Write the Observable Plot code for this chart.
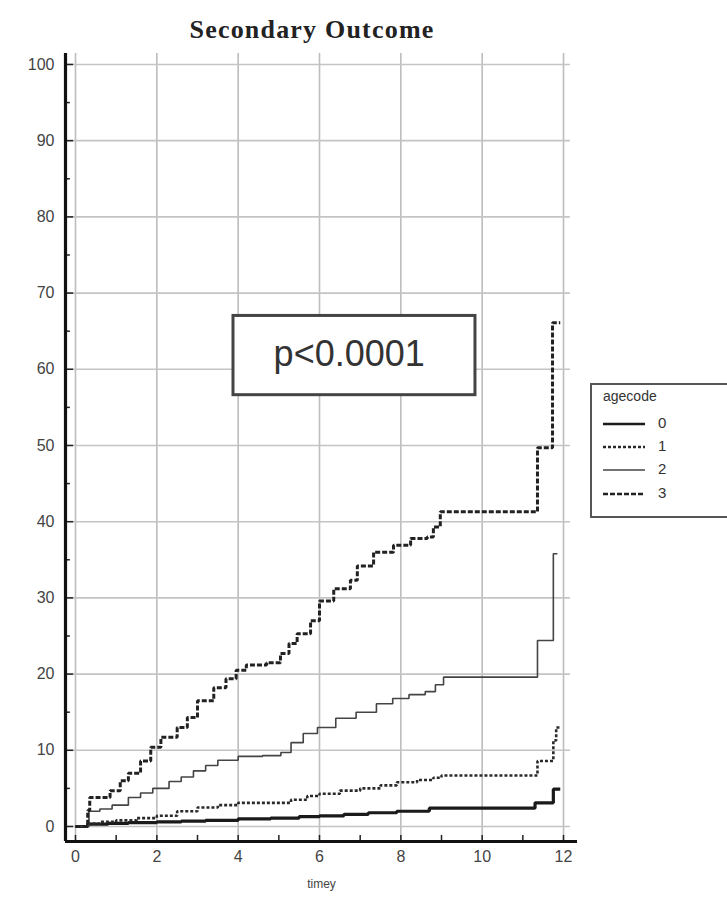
<!DOCTYPE html>
<html>
<head>
<meta charset="utf-8">
<script src="https://cdn.jsdelivr.net/npm/d3@7"></script>
<script src="https://cdn.jsdelivr.net/npm/@observablehq/plot@0.6"></script>
<style>
  html, body { margin: 0; padding: 0; background: #fff; }
  #wrap { position: relative; width: 727px; height: 900px; overflow: hidden; }
  #title { position: absolute; left: 0; top: 15px; width: 624px; text-align: center; letter-spacing: 1.2px;
    font-family: "Liberation Serif", "DejaVu Serif", serif; font-weight: bold; font-size: 26px; color: #222; }
  #chart { position: absolute; left: 0; top: 45px; }
  #legend { position: absolute; left: 590px; top: 383px; width: 150px; height: 131px;
    border: 2px solid #555; background: #fff; font-family: "Liberation Sans", Arial, sans-serif; color: #333; }
  #legend .ttl { position: absolute; left: 11px; top: 3px; font-size: 14px; }
  #legend .row { position: absolute; left: 11px; height: 20px; font-size: 15px; }
  #legend .row svg { position: absolute; left: 0; top: 4px; }
  #legend .row span { position: absolute; left: 55px; top: 0; }
</style>
</head>
<body>
<div id="wrap">
  <div id="title"></div>
  <div id="chart"></div>
  <div id="legend"></div>
</div>
<script>
// ---- data ----
const chartTitle = "Secondary Outcome";
const xLabel = "timey";
const legendTitle = "agecode";
const groups = ["0", "1", "2", "3"];

// step points [time, cumulative %] per agecode
const times0 = [0, 0.3, 0.8, 1.3, 2.0, 2.6, 3.2, 4.0, 4.8, 5.5, 6.0, 6.6, 7.2, 7.9, 8.7, 11.3, 11.75, 11.92];
const values0 = [0, 0.3, 0.4, 0.5, 0.6, 0.7, 0.8, 1.0, 1.1, 1.3, 1.4, 1.6, 1.8, 2.0, 2.4, 3.1, 4.9, 4.9];

const times1 = [0, 0.3, 0.6, 1.0, 1.5, 2.0, 2.5, 3.0, 3.5, 4.0, 5.3, 5.7, 6.0, 6.5, 7.0, 7.5, 7.9, 8.4, 8.8, 9.0, 11.36, 11.75, 11.82, 11.92];
const values1 = [0, 0.4, 0.6, 0.8, 1.1, 1.4, 2.0, 2.5, 2.8, 3.1, 3.5, 4.0, 4.3, 4.7, 5.0, 5.4, 5.8, 6.1, 6.4, 6.7, 8.6, 11.3, 13.0, 13.0];

const times2 = [0, 0.33, 0.6, 0.9, 1.3, 1.6, 1.9, 2.3, 2.6, 2.9, 3.2, 3.5, 4.0, 4.6, 5.05, 5.3, 5.6, 5.95, 6.4, 6.9, 7.4, 7.8, 8.2, 8.6, 8.85, 9.05, 11.36, 11.75, 11.85];
const values2 = [0, 2.0, 2.3, 2.8, 3.8, 4.4, 5.0, 5.9, 6.5, 7.3, 8.0, 8.7, 9.2, 9.3, 9.7, 11.0, 12.2, 13.0, 14.2, 15.0, 16.1, 16.8, 17.3, 17.7, 18.6, 19.6, 24.4, 35.8, 35.8];

const times3 = [0, 0.3, 0.35, 0.85, 1.1, 1.3, 1.6, 1.85, 2.1, 2.5, 2.75, 3.0, 3.4, 3.7, 3.95, 4.2, 4.7, 5.04, 5.25, 5.45, 5.78, 6.0, 6.35, 6.76, 6.93, 7.33, 7.82, 8.24, 8.65, 8.8, 8.97, 11.36, 11.73, 11.92];
const values3 = [0, 2.1, 3.8, 4.7, 6.0, 7.0, 8.6, 10.4, 11.7, 13.0, 14.3, 16.5, 18.2, 19.4, 20.5, 21.2, 21.5, 22.7, 24.0, 25.3, 27.0, 29.6, 31.2, 32.3, 34.2, 36.0, 36.9, 37.8, 38.0, 39.3, 41.3, 49.7, 66.1, 66.1];

const xTickLabels = [0, 2, 4, 6, 8, 10, 12];
const xMinorTicks = [0, 1, 2, 3, 4, 5, 6, 7, 8, 9, 10, 11, 12];
const yTickLabels = [0, 10, 20, 30, 40, 50, 60, 70, 80, 90, 100];
const yMinorTicks = [5, 15, 25, 35, 45, 55, 65, 75, 85, 95];

const pLabel = "p<0.0001";
const pBox = [{x1: 3.885, x2: 9.835, y1: 56.6, y2: 67.0}];
const pText = [{x: 6.73, y: 61.9, label: pLabel}];

// ---- build ----
const series = [times0, times1, times2, times3];
const vals = [values0, values1, values2, values3];
const rows = [];
groups.forEach((g, i) => series[i].forEach((t, j) => rows.push({group: g, t, v: vals[i][j]})));

const styles = {
  "0": {stroke: "#1a1a1a", strokeWidth: 3.2, strokeDasharray: null},
  "1": {stroke: "#2a2a2a", strokeWidth: 2.6, strokeDasharray: "3,2"},
  "2": {stroke: "#444", strokeWidth: 1.6, strokeDasharray: null},
  "3": {stroke: "#222", strokeWidth: 3, strokeDasharray: "5,2"}
};

const xDomain = [-0.246, 12.344];
const yDomain = [-1.97, 101.44];
const font = "Liberation Sans, Arial, sans-serif";

document.getElementById("title").textContent = chartTitle;

const marks = [
  Plot.gridX(xTickLabels, {stroke: "#bdbdbd", strokeOpacity: 1, strokeWidth: 1.6}),
  Plot.gridY(yTickLabels, {stroke: "#c4c4c4", strokeOpacity: 1, strokeWidth: 1.6, x1: xDomain[0], x2: 12.17}),
  // minor / major inward ticks
  Plot.ruleX(xMinorTicks, {x: d => d, y1: yDomain[0], y2: yDomain[0] + 0.8, stroke: "#222", strokeWidth: 1.5}),
  Plot.ruleY(yTickLabels, {y: d => d, x1: xDomain[0], x2: xDomain[0] + 0.2, stroke: "#222", strokeWidth: 1.5}),
  Plot.ruleY(yMinorTicks, {y: d => d, x1: xDomain[0], x2: xDomain[0] + 0.12, stroke: "#222", strokeWidth: 1.5}),
  // p-value annotation
  Plot.rect(pBox, {x1: "x1", x2: "x2", y1: "y1", y2: "y2", fill: "white", stroke: "#444", strokeWidth: 3}),
  Plot.text(pText, {x: "x", y: "y", text: "label", fontSize: 36, fill: "#333", fontFamily: font, style: "letter-spacing: 2.5px"}),
  // curves
  ...groups.map(g => Plot.line(rows.filter(r => r.group === g), {
    x: "t", y: "v", curve: "step-after", ...styles[g], strokeLinejoin: "miter", strokeLinecap: "butt"
  })),
  // axis lines
  Plot.ruleX([xDomain[0]], {stroke: "#111", strokeWidth: 3.2}),
  Plot.ruleY([yDomain[0]], {stroke: "#111", strokeWidth: 3.2}),
  // tick labels
  Plot.axisY(yTickLabels, {tickSize: 0, tickPadding: 11, fontSize: 16, fill: "#444", fontFamily: font, label: null}),
  Plot.axisX(xTickLabels, {tickSize: 0, tickPadding: 9, fontSize: 16, fill: "#444", fontFamily: font, label: null}),
  Plot.text([xLabel], {frameAnchor: "bottom", dy: 46, fontSize: 12, fill: "#444", fontFamily: font})
];

const svg = Plot.plot({
  width: 727,
  height: 855,
  marginLeft: 65,
  marginRight: 150,
  marginTop: 8,
  marginBottom: 59,
  x: {domain: xDomain, axis: null},
  y: {domain: yDomain, axis: null},
  style: {background: "white", fontFamily: font},
  marks
});
document.getElementById("chart").appendChild(svg);

// legend
const lg = document.getElementById("legend");
const t = document.createElement("div");
t.className = "ttl"; t.textContent = legendTitle; lg.appendChild(t);
const rowTops = [29, 52, 75, 99];
groups.forEach((g, i) => {
  const r = document.createElement("div");
  r.className = "row"; r.style.top = rowTops[i] + "px";
  const s = styles[g];
  r.innerHTML = `<svg width="44" height="12"><line x1="0" x2="42" y1="6" y2="6" stroke="${s.stroke}" stroke-width="${Math.min(s.strokeWidth, 2.6)}" ${s.strokeDasharray ? `stroke-dasharray="${s.strokeDasharray}"` : ""}/></svg><span>${g}</span>`;
  lg.appendChild(r);
});
</script>
</body>
</html>
